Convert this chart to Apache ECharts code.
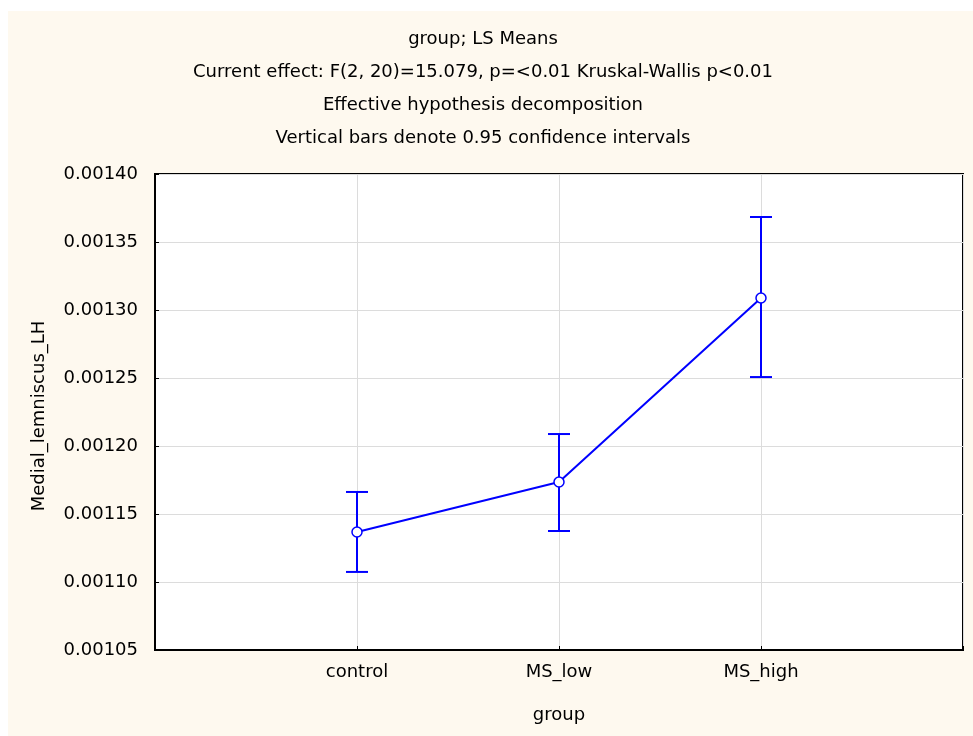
<!DOCTYPE html>
<html>
<head>
<meta charset="utf-8">
<style>
html,body{margin:0;padding:0;background:#fff;}
#c{width:973px;height:736px;}
</style>
<script src="https://cdn.jsdelivr.net/npm/echarts@6/dist/echarts.min.js"></script>
</head>
<body>
<div id="c"></div>
<script>
var categories = ['control', 'MS_low', 'MS_high'];
var means = [0.0011368, 0.0011735, 0.0013088];
var upper = [0.0011662, 0.0012088, 0.0013684];
var lower = [0.0011074, 0.0011375, 0.0012507];
var yTicks = [0.00105, 0.00110, 0.00115, 0.00120, 0.00125, 0.00130, 0.00135, 0.00140];
var titleLines = [
  'group; LS Means',
  'Current effect: F(2, 20)=15.079, p=<0.01 Kruskal-Wallis p<0.01',
  'Effective hypothesis decomposition',
  'Vertical bars denote 0.95 confidence intervals'
];

var blue = '#0000FF';
var font = '"DejaVu Sans", sans-serif';
var fs = 18;
var chart = echarts.init(document.getElementById('c'));

var lineData = means.map(function (v, i) { return [i + 1, v]; });
var errData = means.map(function (v, i) { return [i + 1, lower[i], upper[i]]; });

chart.setOption({
  backgroundColor: '#ffffff',
  animation: false,
  graphic: [{
    type: 'rect', z: -10, silent: true,
    shape: { x: 8, y: 11, width: 965, height: 725 },
    style: { fill: '#FEF9EF' }
  }],
  title: {
    text: titleLines.join('\n'),
    left: 483, top: 23, padding: 0, textAlign: 'center',
    textStyle: { fontFamily: font, fontSize: fs, fontWeight: 'normal', color: '#000', lineHeight: 33 }
  },
  grid: {
    left: 155, right: 10, top: 174, bottom: 86,
    show: true, backgroundColor: '#fff', borderColor: '#000', borderWidth: 2
  },
  xAxis: {
    type: 'value', min: 0, max: 4, interval: 1,
    name: 'group', nameLocation: 'middle', nameGap: 56,
    nameTextStyle: { fontFamily: font, fontSize: fs, color: '#000' },
    axisLine: { show: true, lineStyle: { color: '#000', width: 2 } },
    axisTick: { show: true, inside: true, length: 4, lineStyle: { color: '#000' } },
    axisLabel: {
      fontFamily: font, fontSize: fs, color: '#000', margin: 13,
      formatter: function (v) { return (v >= 1 && v <= categories.length) ? categories[v - 1] : ''; }
    },
    splitLine: { show: true, lineStyle: { color: '#dcdcdc', width: 1 } }
  },
  yAxis: {
    type: 'value', min: yTicks[0], max: yTicks[yTicks.length - 1], interval: 0.00005,
    name: 'Medial_lemniscus_LH', nameLocation: 'middle', nameGap: 107, nameRotate: 90,
    nameTextStyle: { fontFamily: font, fontSize: fs, color: '#000', padding: [0, 0, 0, -8] },
    axisLine: { show: true, lineStyle: { color: '#000', width: 2 } },
    axisTick: { show: true, inside: true, length: 4, lineStyle: { color: '#000' } },
    axisLabel: {
      fontFamily: font, fontSize: fs, color: '#000', margin: 17,
      formatter: function (v) { return v.toFixed(5); }
    },
    splitLine: { show: true, lineStyle: { color: '#dcdcdc', width: 1 } }
  },
  series: [
    {
      type: 'custom',
      data: errData,
      z: 3,
      renderItem: function (params, api) {
        var x = api.value(0);
        var lo = api.coord([x, api.value(1)]);
        var hi = api.coord([x, api.value(2)]);
        var hw = 11;
        var st = { stroke: blue, lineWidth: 2 };
        return {
          type: 'group',
          children: [
            { type: 'line', shape: { x1: lo[0], y1: lo[1], x2: hi[0], y2: hi[1] }, style: st },
            { type: 'line', shape: { x1: lo[0] - hw, y1: lo[1], x2: lo[0] + hw, y2: lo[1] }, style: st },
            { type: 'line', shape: { x1: hi[0] - hw, y1: hi[1], x2: hi[0] + hw, y2: hi[1] }, style: st }
          ]
        };
      }
    },
    {
      type: 'line',
      data: lineData,
      z: 4,
      symbol: 'circle', symbolSize: 10,
      lineStyle: { color: blue, width: 2 },
      itemStyle: { color: '#fff', borderColor: blue, borderWidth: 1.5 }
    }
  ]
});
</script>
</body>
</html>
